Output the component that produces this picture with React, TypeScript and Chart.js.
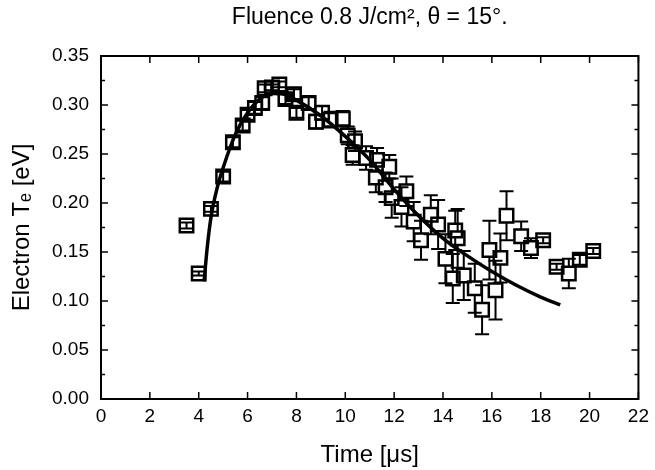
import React, { useEffect, useRef } from "react";
import { Chart, registerables } from "chart.js";

Chart.register(...registerables);

// Measured points: time (µs), electron temperature (eV), error (eV)
const timeUs = [
  3.5, 4.0, 4.5, 5.0, 5.4, 5.8, 6.0, 6.3, 6.6, 6.7, 7.0, 7.3, 7.55, 7.9, 8.0,
  8.5, 8.8, 9.05, 9.4, 9.9, 10.1, 10.4, 10.3, 10.85, 11.3, 11.25, 11.8, 11.65,
  11.9, 12.5, 12.3, 12.8, 13.1, 13.5, 13.8, 14.1, 14.4, 14.6, 14.5, 14.85,
  15.3, 15.6, 15.9, 16.15, 16.35, 16.6, 17.2, 17.6, 18.1, 18.65, 19.15, 19.6,
  20.15,
];
const tempEv = [
  0.177, 0.128, 0.194, 0.227, 0.262, 0.279, 0.29, 0.297, 0.302, 0.317, 0.318,
  0.321, 0.306, 0.311, 0.292, 0.302, 0.283, 0.292, 0.285, 0.286, 0.269, 0.263,
  0.249, 0.246, 0.244, 0.226, 0.237, 0.216, 0.205, 0.212, 0.196, 0.181, 0.162,
  0.188, 0.178, 0.143, 0.123, 0.164, 0.172, 0.126, 0.113, 0.091, 0.152, 0.111,
  0.144, 0.187, 0.166, 0.154, 0.162, 0.135, 0.128, 0.142, 0.151,
];
const tempErr = [
  0.003, 0.002, 0.003, 0.005, 0.005, 0.005, 0.005, 0.006, 0.006, 0.004, 0.003,
  0.003, 0.005, 0.005, 0.005, 0.006, 0.007, 0.007, 0.008, 0.008, 0.009, 0.01,
  0.01, 0.012, 0.012, 0.015, 0.012, 0.015, 0.02, 0.015, 0.02, 0.02, 0.02, 0.02,
  0.025, 0.025, 0.025, 0.03, 0.02, 0.025, 0.025, 0.025, 0.03, 0.03, 0.025,
  0.025, 0.015, 0.01, 0.003, 0.003, 0.015, 0.005, 0.003,
];

// Fitted curve
const fitTime = [
  4.22, 4.35, 4.5, 4.75, 5.0, 5.5, 6.0, 6.5, 7.0, 7.5, 8.0, 9.0, 10.0, 11.0,
  12.0, 13.0, 14.0, 15.0, 16.0, 17.0, 18.0, 18.8,
];
const fitTemp = [
  0.12, 0.155, 0.185, 0.215, 0.236, 0.27, 0.292, 0.306, 0.312, 0.311, 0.305,
  0.289, 0.268, 0.244, 0.214, 0.187, 0.164, 0.146, 0.13, 0.116, 0.104, 0.096,
];

const xTickValues = [0, 2, 4, 6, 8, 10, 12, 14, 16, 18, 20, 22];
const yTickValues = [0, 0.05, 0.1, 0.15, 0.2, 0.25, 0.3, 0.35];

const FONT = '"Liberation Sans", Arial, Helvetica, sans-serif';
const SQUARE_HALF = 7;

const errorBarsPlugin = {
  id: "errorBars",
  afterDatasetsDraw(chart: any) {
    const { ctx } = chart;
    const x = chart.scales.x;
    const y = chart.scales.y;
    ctx.save();
    ctx.strokeStyle = "#000";
    ctx.lineWidth = 2;
    timeUs.forEach((t, i) => {
      const px = x.getPixelForValue(t);
      const py = y.getPixelForValue(tempEv[i]);
      const top = y.getPixelForValue(tempEv[i] + tempErr[i]);
      const bot = y.getPixelForValue(tempEv[i] - tempErr[i]);
      ctx.beginPath();
      if (py - top > SQUARE_HALF) {
        ctx.moveTo(px, top);
        ctx.lineTo(px, py - SQUARE_HALF);
        ctx.moveTo(px, bot);
        ctx.lineTo(px, py + SQUARE_HALF);
      } else {
        ctx.moveTo(px, top);
        ctx.lineTo(px, bot);
      }
      ctx.moveTo(px - 7, top);
      ctx.lineTo(px + 7, top);
      ctx.moveTo(px - 7, bot);
      ctx.lineTo(px + 7, bot);
      ctx.stroke();
    });
    ctx.restore();
  },
};

const framePlugin = {
  id: "frame",
  afterDraw(chart: any) {
    const { ctx, chartArea } = chart;
    const x = chart.scales.x;
    const y = chart.scales.y;
    const { left, right, top, bottom } = chartArea;
    ctx.save();
    ctx.strokeStyle = "#000";
    ctx.lineWidth = 2;
    ctx.strokeRect(left, top, right - left, bottom - top);
    ctx.lineWidth = 1.5;
    ctx.beginPath();
    const major = 7;
    const minor = 4;
    x.ticks.forEach((tk: any) => {
      const px = x.getPixelForValue(tk.value);
      ctx.moveTo(px, bottom);
      ctx.lineTo(px, bottom - major);
      ctx.moveTo(px, top);
      ctx.lineTo(px, top + major);
    });
    const yt = y.ticks.map((tk: any) => tk.value);
    yt.forEach((v: number, i: number) => {
      const py = y.getPixelForValue(v);
      ctx.moveTo(left, py);
      ctx.lineTo(left + major, py);
      ctx.moveTo(right, py);
      ctx.lineTo(right - major, py);
      if (i < yt.length - 1) {
        const pm = y.getPixelForValue((v + yt[i + 1]) / 2);
        ctx.moveTo(left, pm);
        ctx.lineTo(left + minor, pm);
        ctx.moveTo(right, pm);
        ctx.lineTo(right - minor, pm);
      }
    });
    ctx.stroke();
    ctx.restore();
  },
};

export default function App() {
  const canvasRef = useRef<HTMLCanvasElement | null>(null);

  useEffect(() => {
    if (!canvasRef.current) return;
    const chart = new Chart(canvasRef.current, {
      type: "scatter",
      data: {
        datasets: [
          {
            label: "Te",
            data: timeUs.map((t, i) => ({ x: t, y: tempEv[i] })),
            pointStyle: "rect",
            pointRadius: 9.5,
            pointHoverRadius: 9.5,
            borderColor: "#000",
            backgroundColor: "rgba(0,0,0,0)",
            pointBorderWidth: 2.5,
          } as any,
          {
            label: "fit",
            data: fitTime.map((t, i) => ({ x: t, y: fitTemp[i] })),
            showLine: true,
            pointRadius: 0,
            borderColor: "#000",
            borderWidth: 3.5,
            tension: 0.4,
            cubicInterpolationMode: "monotone",
          } as any,
        ],
      },
      options: {
        animation: false,
        responsive: false,
        layout: { padding: { left: 0, right: 15, top: 0, bottom: 0 } },
        plugins: {
          legend: { display: false },
          tooltip: { enabled: false },
          title: {
            display: true,
            text: "Fluence 0.8 J/cm², θ = 15°.",
            color: "#000",
            font: { family: FONT, size: 23, weight: "normal" },
            padding: { top: 4, bottom: 24.4 },
            fullSize: false,
          } as any,
        },
        scales: {
          x: {
            type: "linear",
            min: 0,
            max: 22,
            afterBuildTicks: (scale: any) => {
              scale.ticks = xTickValues.map((v) => ({ value: v }));
            },
            afterFit: (scale: any) => {
              scale.height = 71;
            },
            ticks: {
              color: "#000",
              font: { family: FONT, size: 19 },
              padding: 6,
              maxRotation: 0,
              autoSkip: false,
            },
            grid: { display: false, drawTicks: false },
            border: { display: false },
            title: {
              display: true,
              text: "Time [μs]",
              color: "#000",
              font: { family: FONT, size: 24 },
              padding: { top: 2.6, bottom: 0 },
            },
          },
          y: {
            type: "linear",
            min: 0,
            max: 0.35,
            afterBuildTicks: (scale: any) => {
              scale.ticks = yTickValues.map((v) => ({ value: v }));
            },
            afterFit: (scale: any) => {
              scale.width = 101;
            },
            ticks: {
              color: "#000",
              font: { family: FONT, size: 19 },
              padding: 12,
              autoSkip: false,
              callback: (v: any) => Number(v).toFixed(2),
            },
            grid: { display: false, drawTicks: false },
            border: { display: false },
            title: {
              display: true,
              text: "Electron Tₑ [eV]",
              color: "#000",
              font: { family: FONT, size: 24 },
              padding: { top: 7.6, bottom: 0 },
            },
          },
        },
      },
      plugins: [errorBarsPlugin, framePlugin],
    });
    return () => chart.destroy();
  }, []);

  return (
    <div style={{ position: "fixed", left: 0, top: 0, width: 655, height: 470, background: "#fff" }}>
      <canvas ref={canvasRef} width={655} height={470} />
    </div>
  );
}
